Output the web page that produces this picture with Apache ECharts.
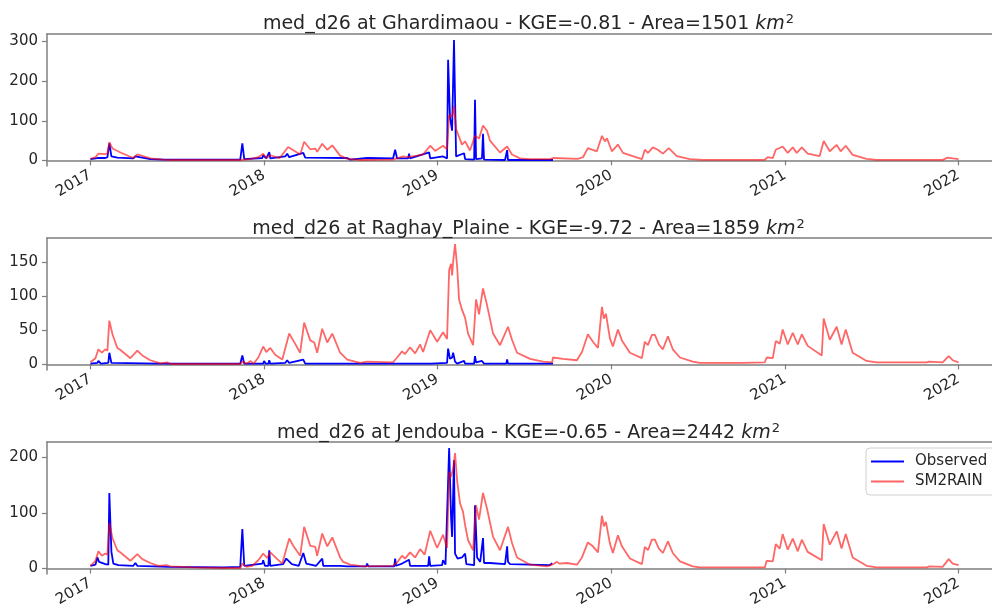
<!DOCTYPE html>
<html>
<head>
<meta charset="utf-8">
<script src="https://cdn.jsdelivr.net/npm/echarts@6/dist/echarts.min.js"></script>
<style>
  html, body { margin: 0; padding: 0; background: #fff; overflow: hidden; }
  #chart { width: 1012px; height: 611px; }
</style>
</head>
<body>
<div id="chart"></div>
<script>
// Discharge time series: observed vs SM2RAIN-driven simulation (m3/s), time in decimal years
const yearTicks = [2017, 2018, 2019, 2020, 2021, 2022];
const stationNames = ['Ghardimaou', 'Raghay_Plaine', 'Jendouba'];
const kgeValues = ['-0.81', '-9.72', '-0.65'];
const areaValues = [1501, 1859, 2442];
const yTicksGhardimaou = [0, 100, 200, 300];
const yTicksRaghay = [0, 50, 100, 150];
const yTicksJendouba = [0, 100, 200];

const ghardimaouObserved = [
  [2017.000,3],[2017.040,6],[2017.086,6],[2017.098,8],[2017.109,43],[2017.121,10],[2017.155,7],[2017.247,5],
  [2017.259,10],[2017.270,5],[2017.345,3],[2017.420,2],[2017.863,2],[2017.875,43],[2017.886,3],[2017.990,6],
  [2017.995,13],[2018.013,5],[2018.030,21],[2018.036,5],[2018.122,10],[2018.133,17],[2018.145,8],[2018.226,19],
  [2018.237,7],[2018.479,6],[2018.496,2],[2018.594,6],[2018.743,5],[2018.755,27],[2018.766,5],[2018.830,5],
  [2018.835,17],[2018.841,5],[2018.951,20],[2018.957,5],[2019.031,10],[2019.054,5],[2019.060,254],[2019.071,108],
  [2019.083,75],[2019.094,304],[2019.106,10],[2019.112,5],[2019.152,18],[2019.158,3],[2019.210,2],[2019.215,153],
  [2019.221,3],[2019.255,5],[2019.261,67],[2019.267,2],[2019.388,1],[2019.400,26],[2019.405,1],[2019.526,1],
  [2019.636,1],[2019.664,1]
];
const ghardimaouSm2rain = [
  [2017.000,4],[2017.029,8],[2017.046,17],[2017.086,16],[2017.098,18],[2017.109,46],[2017.127,30],[2017.173,20],
  [2017.247,6],[2017.270,15],[2017.345,5],[2017.420,2],[2017.460,1],[2017.863,1],[2017.921,3],[2017.967,8],
  [2017.995,17],[2018.013,6],[2018.036,13],[2018.090,6],[2018.139,34],[2018.208,15],[2018.231,47],[2018.266,28],
  [2018.295,30],[2018.306,22],[2018.335,42],[2018.364,27],[2018.393,38],[2018.438,12],[2018.479,4],[2018.554,1],
  [2018.743,2],[2018.766,5],[2018.801,10],[2018.830,8],[2018.881,12],[2018.916,15],[2018.957,37],[2018.985,24],
  [2019.031,37],[2019.054,28],[2019.066,115],[2019.077,120],[2019.083,110],[2019.094,138],[2019.106,79],[2019.140,40],
  [2019.158,48],[2019.186,25],[2019.215,62],[2019.238,55],[2019.261,88],[2019.284,75],[2019.301,50],[2019.359,20],
  [2019.400,35],[2019.428,15],[2019.474,5],[2019.532,3],[2019.647,3],[2019.664,6],[2019.808,4],[2019.837,8],
  [2019.865,31],[2019.917,23],[2019.946,62],[2019.963,48],[2019.975,56],[2020.003,23],[2020.038,40],[2020.067,19],
  [2020.176,3],[2020.193,27],[2020.211,19],[2020.239,33],[2020.268,27],[2020.297,17],[2020.331,31],[2020.377,11],
  [2020.452,3],[2020.527,1.5],[2020.884,1.5],[2020.901,8],[2020.930,6],[2020.947,27],[2020.987,35],[2021.016,19],
  [2021.045,33],[2021.068,19],[2021.097,33],[2021.131,17],[2021.200,11],[2021.223,49],[2021.258,23],[2021.298,39],
  [2021.321,23],[2021.350,37],[2021.390,14],[2021.470,4],[2021.528,1.5],[2021.908,1.5],[2021.937,7],[2021.966,5],
  [2022.000,3]
];

const raghayObserved = [
  [2017.000,1],[2017.040,2],[2017.046,5],[2017.060,1],[2017.103,2],[2017.109,17],[2017.121,2],[2017.400,1],
  [2017.863,1],[2017.875,13],[2017.886,1],[2017.995,1],[2018.000,5],[2018.010,1],[2018.025,1],[2018.030,6],
  [2018.036,1],[2018.122,2],[2018.133,6],[2018.145,2],[2018.226,7],[2018.237,1],[2018.950,1],[2018.957,3],
  [2018.962,1],[2019.054,2],[2019.060,23],[2019.071,8],[2019.083,10],[2019.089,17],[2019.100,4],[2019.112,1],
  [2019.152,5],[2019.158,1],[2019.210,1],[2019.215,12],[2019.221,3],[2019.255,5],[2019.267,1],[2019.395,1],
  [2019.400,7],[2019.405,1],[2019.664,1]
];
const raghaySm2rain = [
  [2017.000,3],[2017.029,9],[2017.046,22],[2017.066,17],[2017.086,22],[2017.098,20],[2017.109,64],[2017.127,44],
  [2017.155,24],[2017.173,21],[2017.230,9],[2017.270,20],[2017.299,13],[2017.345,6],[2017.403,1.5],[2017.443,3],
  [2017.460,0.5],[2017.863,0.5],[2017.875,4],[2017.900,1],[2017.921,5],[2017.940,1],[2017.967,10],[2017.995,26],
  [2018.013,18],[2018.036,24],[2018.064,14],[2018.105,7],[2018.145,45],[2018.168,35],[2018.208,17],[2018.231,61],
  [2018.266,35],[2018.289,32],[2018.306,17],[2018.335,52],[2018.364,32],[2018.393,45],[2018.438,17],[2018.479,7],
  [2018.554,2],[2018.594,4],[2018.743,3],[2018.766,10],[2018.795,19],[2018.812,15],[2018.841,25],[2018.870,16],
  [2018.899,29],[2018.916,18],[2018.957,50],[2018.997,33],[2019.031,47],[2019.054,37],[2019.066,138],[2019.077,147],
  [2019.083,130],[2019.089,150],[2019.100,176],[2019.112,143],[2019.123,95],[2019.140,80],[2019.158,68],[2019.175,45],
  [2019.204,28],[2019.221,95],[2019.238,73],[2019.261,111],[2019.284,87],[2019.319,45],[2019.359,28],[2019.405,55],
  [2019.428,36],[2019.457,17],[2019.532,8],[2019.607,4],[2019.659,3],[2019.664,10],[2019.722,8],[2019.802,6],
  [2019.831,18],[2019.865,44],[2019.894,33],[2019.923,24],[2019.946,84],[2019.957,67],[2019.969,74],[2019.992,38],
  [2020.009,26],[2020.038,51],[2020.061,35],[2020.107,17],[2020.176,9],[2020.193,33],[2020.211,28],[2020.234,43],
  [2020.251,43],[2020.274,29],[2020.297,22],[2020.326,41],[2020.354,22],[2020.395,10],[2020.469,4],[2020.510,2],
  [2020.700,2],[2020.710,4],[2020.757,2],[2020.884,3],[2020.895,10],[2020.930,9],[2020.947,34],[2020.970,30],
  [2020.987,51],[2021.016,29],[2021.045,46],[2021.074,29],[2021.097,44],[2021.131,27],[2021.212,13],[2021.223,67],
  [2021.258,36],[2021.298,55],[2021.326,29],[2021.350,51],[2021.390,17],[2021.470,5],[2021.528,3],[2021.816,3],
  [2021.830,4],[2021.908,3],[2021.943,12],[2021.966,6],[2022.000,3]
];

const jendoubaObserved = [
  [2017.000,5],[2017.029,7],[2017.040,20],[2017.050,12],[2017.086,8],[2017.103,7],[2017.109,136],[2017.121,30],
  [2017.132,9],[2017.161,6],[2017.247,5],[2017.259,10],[2017.270,5],[2017.450,3],[2017.765,2],[2017.863,3],
  [2017.875,71],[2017.886,5],[2017.990,9],[2017.995,15],[2018.005,5],[2018.025,5],[2018.030,33],[2018.036,5],
  [2018.110,8],[2018.128,18],[2018.139,19],[2018.160,8],[2018.200,5],[2018.226,28],[2018.243,9],[2018.300,5],
  [2018.335,18],[2018.341,5],[2018.438,5],[2018.479,4],[2018.588,4],[2018.594,9],[2018.600,4],[2018.750,4],
  [2018.755,18],[2018.760,5],[2018.795,9],[2018.835,16],[2018.841,5],[2018.945,5],[2018.951,22],[2018.957,5],
  [2019.025,6],[2019.031,15],[2019.045,7],[2019.066,217],[2019.077,93],[2019.083,57],[2019.094,195],[2019.100,27],
  [2019.115,18],[2019.140,20],[2019.158,27],[2019.165,8],[2019.210,6],[2019.215,114],[2019.227,20],[2019.245,12],
  [2019.261,55],[2019.267,10],[2019.301,10],[2019.388,8],[2019.400,40],[2019.405,12],[2019.417,8],[2019.647,6],
  [2019.659,10]
];
const jendoubaSm2rain = [
  [2017.000,5],[2017.029,14],[2017.046,31],[2017.066,23],[2017.086,27],[2017.098,25],[2017.109,82],[2017.127,55],
  [2017.155,33],[2017.173,29],[2017.230,14],[2017.270,26],[2017.299,17],[2017.345,10],[2017.391,5],[2017.437,6],
  [2017.460,4],[2017.593,2],[2017.765,1],[2017.863,1],[2017.875,9],[2017.900,3],[2017.932,5],[2017.967,15],
  [2017.995,27],[2018.018,19],[2018.036,29],[2018.076,17],[2018.105,9],[2018.145,54],[2018.168,41],[2018.208,23],
  [2018.231,75],[2018.266,41],[2018.295,39],[2018.306,23],[2018.335,63],[2018.364,40],[2018.393,56],[2018.438,20],
  [2018.456,12],[2018.496,7],[2018.571,4],[2018.743,5],[2018.766,11],[2018.795,23],[2018.812,18],[2018.841,29],
  [2018.870,20],[2018.899,35],[2018.925,25],[2018.957,68],[2018.997,37],[2019.031,61],[2019.054,37],[2019.066,174],
  [2019.077,165],[2019.089,180],[2019.100,208],[2019.112,158],[2019.129,117],[2019.146,102],[2019.158,78],[2019.175,51],
  [2019.204,33],[2019.221,114],[2019.238,88],[2019.261,136],[2019.284,108],[2019.319,57],[2019.359,33],[2019.405,75],
  [2019.428,46],[2019.457,20],[2019.532,7],[2019.630,4],[2019.659,7],[2019.687,12],[2019.700,9],[2019.745,10],
  [2019.802,7],[2019.831,20],[2019.865,47],[2019.894,40],[2019.923,29],[2019.946,95],[2019.957,76],[2019.969,84],
  [2019.992,45],[2020.009,28],[2020.038,60],[2020.061,40],[2020.107,18],[2020.176,8],[2020.193,39],[2020.211,33],
  [2020.234,52],[2020.251,52],[2020.274,36],[2020.297,28],[2020.326,49],[2020.354,28],[2020.395,13],[2020.469,4],
  [2020.510,2],[2020.700,2],[2020.710,5],[2020.757,2],[2020.884,2],[2020.895,14],[2020.930,13],[2020.947,44],
  [2020.970,36],[2020.987,62],[2021.016,34],[2021.045,54],[2021.074,31],[2021.097,52],[2021.131,30],[2021.212,15],
  [2021.223,80],[2021.258,43],[2021.298,67],[2021.326,36],[2021.350,62],[2021.390,20],[2021.470,5],[2021.528,2],
  [2021.816,2],[2021.830,4],[2021.908,3],[2021.943,17],[2021.966,9],[2022.000,6]
];

const panels = [
  { obs: ghardimaouObserved, sim: ghardimaouSm2rain, yTicks: yTicksGhardimaou, top: 34, titleTop: 8 },
  { obs: raghayObserved, sim: raghaySm2rain, yTicks: yTicksRaghay, top: 238, titleTop: 213 },
  { obs: jendoubaObserved, sim: jendoubaSm2rain, yTicks: yTicksJendouba, top: 442, titleTop: 417 }
];

const FONT = 'DejaVu Sans';
const AXIS_COLOR = '#7f7f7f';
const TEXT_COLOR = '#262626';
const OBS_COLOR = '#0000ff';
const SIM_COLOR = 'rgba(255,0,0,0.6)';
const PLOT_LEFT = 47;
const PLOT_WIDTH = 955;
const PLOT_HEIGHT = 132;

// x span padded by 5% of the data span on each side
const xMin = yearTicks[0] - 0.05 * (yearTicks[yearTicks.length - 1] - yearTicks[0]);
const xMax = yearTicks[yearTicks.length - 1] + 0.05 * (yearTicks[yearTicks.length - 1] - yearTicks[0]);

const grids = [], xAxes = [], topAxes = [], yAxes = [], series = [], titles = [];
const spine = { show: true, lineStyle: { color: AXIS_COLOR, width: 1.5 } };

panels.forEach((p, i) => {
  const vals = p.obs.concat(p.sim).map(d => d[1]);
  const lo = Math.min(...vals), hi = Math.max(...vals);
  const pad = 0.05 * (hi - lo);

  grids.push({ left: PLOT_LEFT, top: p.top, width: PLOT_WIDTH, height: PLOT_HEIGHT, show: false });
  xAxes.push({
    type: 'value', gridIndex: i, min: xMin, max: xMax, position: 'bottom',
    axisLine: spine,
    axisTick: { show: true, length: 5, customValues: yearTicks, lineStyle: { color: AXIS_COLOR, width: 1.2 } },
    axisLabel: {
      customValues: yearTicks, rotate: 30, margin: 8,
      fontFamily: FONT, fontSize: 15, color: TEXT_COLOR,
      formatter: v => String(Math.round(v))
    },
    splitLine: { show: false }
  });
  // upper frame edge of each panel
  topAxes.push({
    type: 'value', gridIndex: i, min: xMin, max: xMax, position: 'top',
    axisLine: spine, axisTick: { show: false }, axisLabel: { show: false }, splitLine: { show: false }
  });
  yAxes.push({
    type: 'value', gridIndex: i, min: lo - pad, max: hi + pad,
    axisLine: spine,
    axisTick: { show: true, length: 5, customValues: p.yTicks, lineStyle: { color: AXIS_COLOR, width: 1.2 } },
    axisLabel: {
      customValues: p.yTicks, margin: 9,
      fontFamily: FONT, fontSize: 15, color: TEXT_COLOR,
      formatter: v => String(Math.round(v))
    },
    splitLine: { show: false }
  });
  titles.push({
    left: PLOT_LEFT + PLOT_WIDTH / 2 - 1, top: p.titleTop, textAlign: 'center',
    text: '{t|med_d26 at ' + stationNames[i] + ' - KGE=' + kgeValues[i] + ' - Area=' + areaValues[i] + ' }{k|km}{s|2}',
    textStyle: {
      fontWeight: 'normal',
      rich: {
        t: { fontFamily: FONT, fontSize: 19, fontWeight: 'normal', color: TEXT_COLOR },
        k: { fontFamily: FONT, fontSize: 19, fontWeight: 'normal', fontStyle: 'italic', color: TEXT_COLOR },
        s: { fontFamily: FONT, fontSize: 13, fontWeight: 'normal', color: TEXT_COLOR, verticalAlign: 'top', padding: [0, 0, 10, 1] }
      }
    }
  });
  series.push({
    name: 'Observed', type: 'line', xAxisIndex: i, yAxisIndex: i, data: p.obs,
    showSymbol: false, symbol: 'none', color: OBS_COLOR,
    lineStyle: { color: OBS_COLOR, width: 1.8 }, z: 2
  });
  series.push({
    name: 'SM2RAIN', type: 'line', xAxisIndex: i, yAxisIndex: i, data: p.sim,
    showSymbol: false, symbol: 'none', color: SIM_COLOR,
    lineStyle: { color: SIM_COLOR, width: 1.8 }, z: 3
  });
});

const chart = echarts.init(document.getElementById('chart'), null, { renderer: 'canvas' });
chart.setOption({
  animation: false,
  backgroundColor: '#ffffff',
  title: titles,
  grid: grids,
  xAxis: xAxes.concat(topAxes),
  yAxis: yAxes,
  legend: {
    data: ['Observed', 'SM2RAIN'],
    orient: 'vertical', left: 866, top: 448,
    icon: 'rect', itemWidth: 33, itemHeight: 2, itemGap: 5,
    padding: [6, 30, 6, 5],
    borderColor: '#d0d0d0', borderWidth: 1, borderRadius: 4,
    backgroundColor: 'rgba(255,255,255,0.8)',
    textStyle: { fontFamily: FONT, fontSize: 15, color: TEXT_COLOR, padding: [0, 0, 0, 6] }
  },
  series: series
});
</script>
</body>
</html>
